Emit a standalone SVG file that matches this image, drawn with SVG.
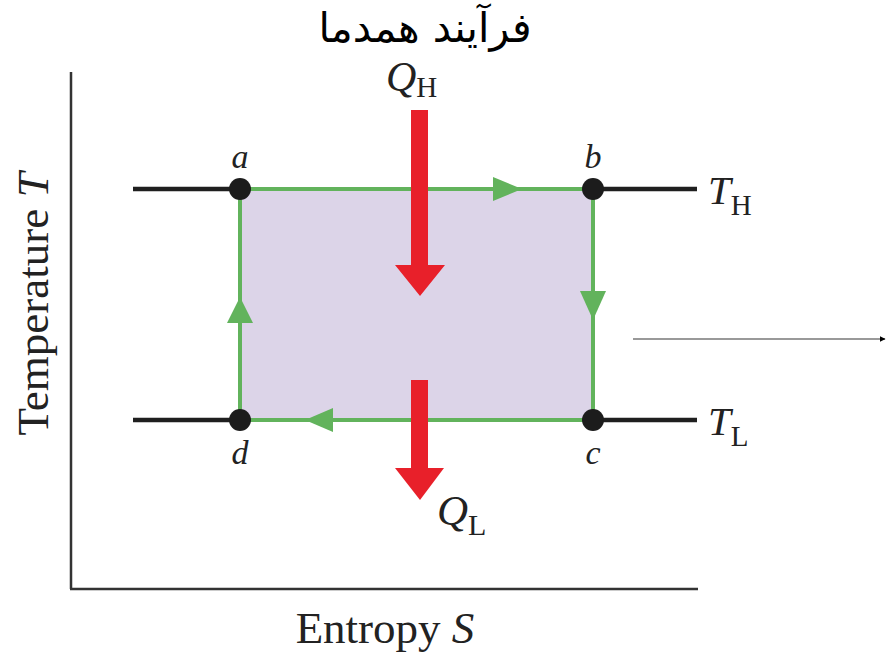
<svg xmlns="http://www.w3.org/2000/svg" width="886" height="659" viewBox="0 0 886 659">
<defs>
<style>
.lbl{font-family:"Liberation Serif","DejaVu Serif",serif;fill:#222;}
.it{font-style:italic;}
.green{stroke:#62b35c;stroke-width:4;fill:none;}
.iso{stroke:#1f1f1f;stroke-width:4.5;}
.garr{fill:#62b35c;}
.red{fill:#e8202a;}
.dot{fill:#1c1c1c;}
</style>
<marker id="blk" viewBox="0 0 10 10" refX="9" refY="5" markerWidth="6" markerHeight="6" orient="auto" markerUnits="userSpaceOnUse">
<path d="M0,0 L10,5 L0,10 z" fill="#000"/>
</marker>
</defs>
<rect width="886" height="659" fill="#fff"/>
<text x="425" y="42" font-family="DejaVu Sans, sans-serif" font-size="41" text-anchor="middle" direction="rtl" fill="#000">فرآیند همدما</text>
<g id="axes">
<line x1="71" y1="72" x2="71" y2="589" stroke="#333" stroke-width="2.5"/>
<line x1="70" y1="589" x2="698" y2="589" stroke="#333" stroke-width="2.5"/>
<text class="lbl" x="0" y="0" font-size="45" text-anchor="middle" transform="translate(48,304) rotate(-90)">Temperature <tspan class="it">T</tspan></text>
<text class="lbl" x="385" y="643" font-size="45" text-anchor="middle">Entropy <tspan class="it">S</tspan></text>
</g>
<g id="cycle">
<rect x="240" y="189" width="353" height="231" fill="#dcd4e8"/>
</g>
<g id="connectors">
<line class="iso" x1="133" y1="189" x2="240" y2="189"/>
<line class="iso" x1="593" y1="189" x2="697" y2="189"/>
<line class="iso" x1="133" y1="420" x2="240" y2="420"/>
<line class="iso" x1="593" y1="420" x2="697" y2="420"/>
<path class="green" d="M240,189 H593 V420 H240 Z"/>
<path class="garr" d="M493,177 L522,189 L493,201 Z"/>
<path class="garr" d="M580,291 L606,291 L593,320 Z"/>
<path class="garr" d="M333,408 L305,420 L333,432 Z"/>
<path class="garr" d="M227,323 L253,323 L240,297 Z"/>
<path class="red" d="M411,110 H428 V265 H445 L420,296 L395,265 H411 Z"/>
<path class="red" d="M411,380 H428 V468 H444 L420,500 L395,468 H411 Z"/>
<line x1="633" y1="339" x2="885" y2="339" stroke="#777" stroke-width="1.5" marker-end="url(#blk)"/>
</g>
<g id="a"><circle class="dot" cx="240" cy="189" r="11"/><text class="lbl it" x="240" y="168" font-size="34" text-anchor="middle">a</text></g>
<g id="b"><circle class="dot" cx="593" cy="189" r="11"/><text class="lbl it" x="593" y="168" font-size="34" text-anchor="middle">b</text></g>
<g id="c"><circle class="dot" cx="593" cy="420" r="11"/><text class="lbl it" x="593" y="464" font-size="34" text-anchor="middle">c</text></g>
<g id="d"><circle class="dot" cx="240" cy="420" r="11"/><text class="lbl it" x="240" y="464" font-size="34" text-anchor="middle">d</text></g>
<g id="TH"><text class="lbl" x="708" y="204" font-size="41"><tspan class="it">T</tspan><tspan font-size="29" dy="11">H</tspan></text></g>
<g id="TL"><text class="lbl" x="708" y="435" font-size="41"><tspan class="it">T</tspan><tspan font-size="29" dy="11">L</tspan></text></g>
<g id="QH"><text class="lbl" x="386" y="91" font-size="42"><tspan class="it">Q</tspan><tspan font-size="29" dy="6">H</tspan></text></g>
<g id="QL"><text class="lbl" x="437" y="525" font-size="43"><tspan class="it">Q</tspan><tspan font-size="30" dy="10">L</tspan></text></g>
</svg>
